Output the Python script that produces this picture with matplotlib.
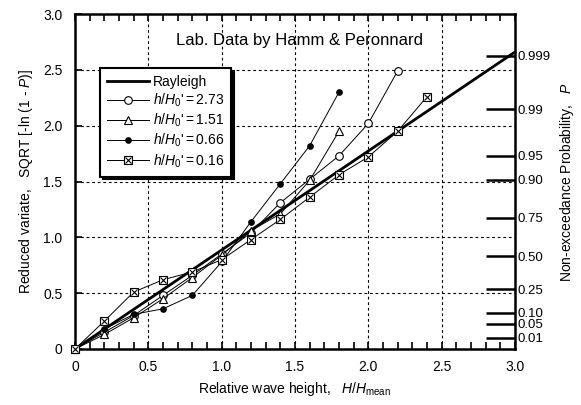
import numpy as np
import matplotlib
matplotlib.use("Agg")
import matplotlib.pyplot as plt
from matplotlib.ticker import MultipleLocator, FixedLocator, FixedFormatter, FuncFormatter

plt.rcParams["font.family"] = ["Liberation Sans", "DejaVu Sans"]
plt.rcParams["mathtext.fontset"] = "custom"
plt.rcParams["mathtext.rm"] = "Liberation Sans"
plt.rcParams["mathtext.it"] = "Liberation Sans:italic"
plt.rcParams["font.size"] = 10

# данные
x_vals = [0.0, 0.2, 0.4, 0.6, 0.8, 1.0, 1.2, 1.4, 1.6, 1.8, 2.0, 2.2, 2.4]

y_273 = [0.0, 0.15, 0.30, 0.48, 0.66, 0.85, 1.04, 1.31, 1.52, 1.73, 2.02, 2.49]
y_151 = [0.0, 0.13, 0.28, 0.45, 0.64, 0.84, 1.06, 1.21, 1.51, 1.95]
y_066 = [0.0, 0.18, 0.31, 0.36, 0.48, 0.78, 1.14, 1.48, 1.82, 2.30]
y_016 = [0.0, 0.25, 0.51, 0.62, 0.69, 0.80, 0.98, 1.16, 1.36, 1.56, 1.72, 1.95, 2.26]

rayleigh_x = [0.0, 3.0]
rayleigh_y = [0.0, 2.66]

p_ticks = [0.01, 0.05, 0.10, 0.25, 0.50, 0.75, 0.90, 0.95, 0.99, 0.999]
p_labels = ["0.01", "0.05", "0.10", "0.25", "0.50", "0.75", "0.90", "0.95", "0.99", "0.999"]


def fmt_tick(v, pos):
    if abs(v) < 1e-9:
        return "0"
    return f"{v:.1f}"


fig = plt.figure(figsize=(5.81, 4.05), dpi=100)
ax = fig.add_axes([75 / 581, 56 / 405, 440 / 581, 335 / 405])

ax.set_xlim(0, 3)
ax.set_ylim(0, 3)

# сетка
for v in [0.5, 1.0, 1.5, 2.0, 2.5]:
    ax.axvline(v, color="black", lw=0.8, ls=(0, (2.5, 2.5)), zorder=1)
    ax.axhline(v, color="black", lw=0.8, ls=(0, (2.5, 2.5)), zorder=1)

ray, = ax.plot(rayleigh_x, rayleigh_y, color="black", lw=2.0, zorder=3,
               label="Rayleigh", clip_on=False)

l1, = ax.plot(x_vals[:len(y_273)], y_273, color="black", lw=0.7, marker="o",
              ms=5.5, mfc="white", mec="black", mew=0.8, zorder=4, clip_on=False)
l2, = ax.plot(x_vals[:len(y_151)], y_151, color="black", lw=0.7, marker="^",
              ms=6, mfc="white", mec="black", mew=0.8, zorder=4, clip_on=False)
l3, = ax.plot(x_vals[:len(y_066)], y_066, color="black", lw=0.7, marker="o",
              ms=3.8, mfc="black", mec="black", zorder=4, clip_on=False)
l4, = ax.plot(x_vals[:len(y_016)], y_016, color="black", lw=0.7, marker="s",
              ms=6, mfc="white", mec="black", mew=0.8, zorder=5, clip_on=False)
l4x, = ax.plot(x_vals[:len(y_016)], y_016, ls="none", marker="x",
               ms=5, mec="black", mew=0.8, zorder=6, clip_on=False)

for s in ax.spines.values():
    s.set_linewidth(1.8)

ax.xaxis.set_major_locator(MultipleLocator(0.5))
ax.xaxis.set_minor_locator(MultipleLocator(0.1))
ax.yaxis.set_major_locator(MultipleLocator(0.5))
ax.xaxis.set_major_formatter(FuncFormatter(fmt_tick))
ax.yaxis.set_major_formatter(FuncFormatter(fmt_tick))
ax.tick_params(which="major", axis="x", direction="in", length=5, width=1.2,
               top=True, pad=8)
ax.tick_params(which="minor", axis="x", direction="in", length=5, width=1.2, top=True)
ax.tick_params(which="major", axis="y", direction="in", length=5, width=1.2,
               right=True, pad=9)

ax.set_xlabel(r"Relative wave height,   $H$/$H$$_{\mathrm{mean}}$", labelpad=4)
ax.set_ylabel(r"Reduced variate,   SQRT [-ln (1 - $P$)]", labelpad=6)

# правая шкала вероятностей
ax2 = ax.twinx()
ax2.set_ylim(0, 3)
ax2.yaxis.set_major_locator(FixedLocator([np.sqrt(-np.log(1 - p)) for p in p_ticks]))
ax2.yaxis.set_major_formatter(FixedFormatter(p_labels))
ax2.tick_params(axis="y", direction="in", length=21, width=1.8, pad=2,
                labelsize=9.5)
for s in ax2.spines.values():
    s.set_visible(False)
ax2.set_ylabel(r"Non-exceedance Probability,   $P$", labelpad=5)

ax.text(0.51, 0.922, "Lab. Data by Hamm & Peronnard", transform=ax.transAxes,
        ha="center", va="center", fontsize=12)

handles = [ray, l1, l2, l3, (l4, l4x)]
labels = ["Rayleigh",
          r"$h$/$H$$_0$'$=$2.73",
          r"$h$/$H$$_0$'$=$1.51",
          r"$h$/$H$$_0$'$=$0.66",
          r"$h$/$H$$_0$'$=$0.16"]
leg = ax.legend(handles, labels, loc="upper left", bbox_to_anchor=(0.057, 0.839),
                borderaxespad=0, fontsize=10, fancybox=False, framealpha=1,
                edgecolor="black", handlelength=3.0, handletextpad=0.3,
                labelspacing=0.2, borderpad=0.5,
                shadow={"color": "black", "alpha": 1})
leg.get_frame().set_linewidth(1.5)
leg.set_zorder(10)

fig.savefig("out.png", dpi=100)
